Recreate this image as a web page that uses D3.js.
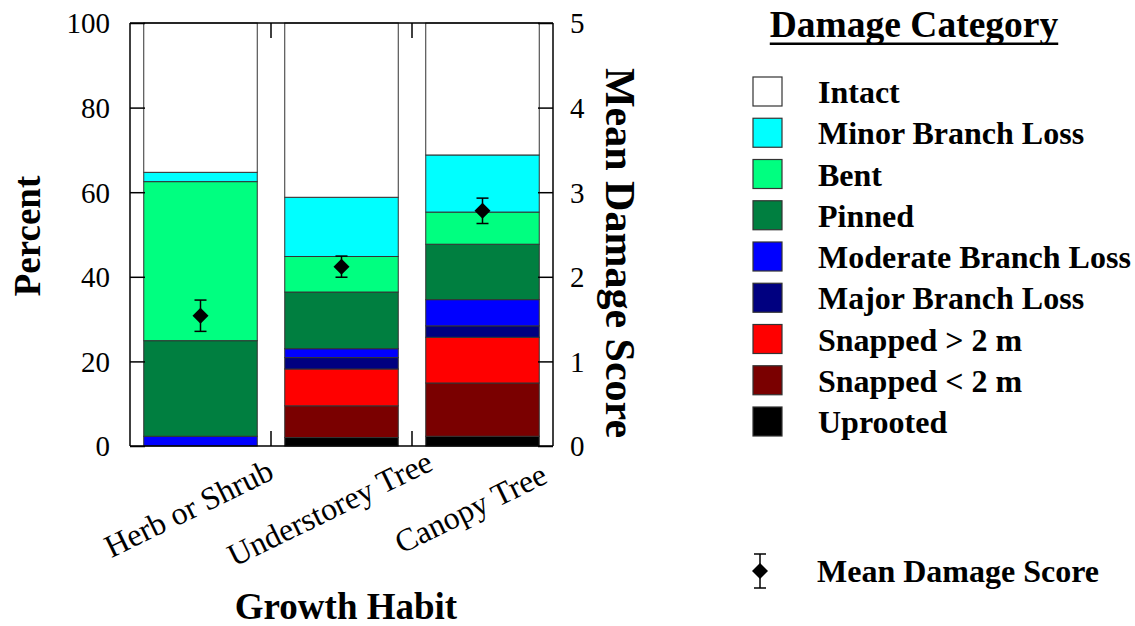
<!DOCTYPE html>
<html>
<head>
<meta charset="utf-8">
<script src="https://cdn.jsdelivr.net/npm/d3@7"></script>
<style>
  html, body { margin: 0; padding: 0; background: #fff; }
  svg { display: block; }
  text { font-family: "Liberation Serif", "Times New Roman", serif; fill: #000; }
</style>
</head>
<body>
<svg id="chart" width="1135" height="626"></svg>
<script>
// Growth habits along the x axis
const categories = ["Herb or Shrub", "Understorey Tree", "Canopy Tree"];

// Damage categories, stacked bottom to top
const damageKeys = ["Uprooted", "Snapped < 2 m", "Snapped > 2 m", "Major Branch Loss",
  "Moderate Branch Loss", "Pinned", "Bent", "Minor Branch Loss", "Intact"];
const damageColors = ["#000000", "#7a0000", "#ff0000", "#000080",
  "#0000ff", "#007f40", "#00ff80", "#00ffff", "#ffffff"];

// Percent of stems in each damage category (order follows damageKeys)
const herbShrub   = [0.0, 0.0, 0.0, 0.0, 2.3, 22.6, 37.6, 2.2, 35.3];
const understorey = [2.0, 7.5, 8.7, 2.7, 2.1, 13.4, 8.4, 14.0, 41.2];
const canopy      = [2.3, 12.6, 10.8, 2.7, 6.2, 13.1, 7.6, 13.5, 31.2];

// Mean damage score and its error (right axis)
const meanScore = [1.54, 2.12, 2.78];
const scoreError = [0.185, 0.125, 0.15];

// Axis ticks
const percentTicks = [0, 20, 40, 60, 80, 100];
const scoreTicks = [0, 1, 2, 3, 4, 5];

// Legend order (top to bottom)
const legendKeys = damageKeys.slice().reverse();

const svg = d3.select("#chart");
const plot = { left: 130, right: 553, top: 23, bottom: 446 };

const x = d3.scaleBand().domain(categories)
  .range([plot.left, plot.right]).paddingInner(0.195).paddingOuter(0.0975);
const yPct = d3.scaleLinear().domain([0, 100]).range([plot.bottom, plot.top]);
const yScore = d3.scaleLinear().domain([0, 5]).range([plot.bottom, plot.top]);
const color = d3.scaleOrdinal().domain(damageKeys).range(damageColors);

// build table rows for the stack
const seriesByCat = [herbShrub, understorey, canopy];
const rows = categories.map((c, i) => {
  const r = { cat: c };
  damageKeys.forEach((k, j) => r[k] = seriesByCat[i][j]);
  return r;
});
const stacked = d3.stack().keys(damageKeys)(rows);

// stacked bars
const layers = svg.append("g").selectAll("g").data(stacked).join("g")
  .attr("fill", d => color(d.key));
layers.selectAll("rect").data(d => d).join("rect")
  .attr("x", d => x(d.data.cat))
  .attr("width", x.bandwidth())
  .attr("y", d => yPct(d[1]))
  .attr("height", d => yPct(d[0]) - yPct(d[1]))
  .attr("stroke", "#333")
  .attr("stroke-width", 1);

// frame lines top and bottom
const frame = svg.append("g").attr("stroke", "#000").attr("stroke-width", 1.5);
frame.append("line").attr("x1", plot.left).attr("x2", plot.right)
  .attr("y1", plot.top).attr("y2", plot.top);
frame.append("line").attr("x1", plot.left).attr("x2", plot.right)
  .attr("y1", plot.bottom).attr("y2", plot.bottom);

// category boundary ticks (inward, top and bottom)
const step = x.step();
const bounds = d3.range(1, categories.length).map(i => plot.left + i * step);
frame.selectAll("line.bt").data(bounds).join("line").attr("class", "bt")
  .attr("x1", d => d).attr("x2", d => d)
  .attr("y1", plot.bottom).attr("y2", plot.bottom - 15);
frame.selectAll("line.tt").data(bounds).join("line").attr("class", "tt")
  .attr("x1", d => d).attr("x2", d => d)
  .attr("y1", plot.top).attr("y2", plot.top + 15);

// left axis (percent)
const axL = svg.append("g").attr("transform", `translate(${plot.left},0)`)
  .call(d3.axisLeft(yPct).tickValues(percentTicks).tickFormat(d3.format("d")).tickSize(-15).tickPadding(20));
axL.selectAll("text").style("font-size", "29px").attr("dy", "0.34em");
axL.selectAll("line, path").attr("stroke", "#000").attr("stroke-width", 1.5);
axL.select("path").attr("d", `M0,${plot.bottom}V${plot.top}`);

// right axis (mean damage score)
const axR = svg.append("g").attr("transform", `translate(${plot.right},0)`)
  .call(d3.axisRight(yScore).tickValues(scoreTicks).tickFormat(d3.format("d")).tickSize(-15).tickPadding(17));
axR.selectAll("text").style("font-size", "29px").attr("dy", "0.34em");
axR.selectAll("line, path").attr("stroke", "#000").attr("stroke-width", 1.5);
axR.select("path").attr("d", `M0,${plot.bottom}V${plot.top}`);

// mean damage score markers with error bars
const marks = svg.append("g").selectAll("g").data(categories).join("g")
  .attr("transform", (c) => `translate(${x(c) + x.bandwidth() / 2},0)`);
marks.append("line")
  .attr("y1", (c, i) => yScore(meanScore[i] + scoreError[i]))
  .attr("y2", (c, i) => yScore(meanScore[i] - scoreError[i]))
  .attr("stroke", "#000").attr("stroke-width", 1.5);
marks.append("line").attr("x1", -6).attr("x2", 6)
  .attr("y1", (c, i) => yScore(meanScore[i] + scoreError[i]))
  .attr("y2", (c, i) => yScore(meanScore[i] + scoreError[i]))
  .attr("stroke", "#000").attr("stroke-width", 1.5);
marks.append("line").attr("x1", -6).attr("x2", 6)
  .attr("y1", (c, i) => yScore(meanScore[i] - scoreError[i]))
  .attr("y2", (c, i) => yScore(meanScore[i] - scoreError[i]))
  .attr("stroke", "#000").attr("stroke-width", 1.5);
marks.append("path")
  .attr("d", (c, i) => { const y = yScore(meanScore[i]), h = 8; return `M0,${y - h}L${h},${y}L0,${y + h}L${-h},${y}Z`; })
  .attr("fill", "#000");

// category labels, slanted
svg.append("g").selectAll("text").data(categories).join("text")
  .attr("transform", c => `translate(${x(c) + x.bandwidth() / 2 - 12},${508}) rotate(-26)`)
  .attr("text-anchor", "middle").attr("dy", "0.35em")
  .style("font-size", "32px")
  .text(c => c);

// axis titles
svg.append("text").attr("transform", "translate(40,236) rotate(-90)")
  .attr("text-anchor", "middle").style("font-size", "37px").style("font-weight", "bold")
  .text("Percent");
svg.append("text").attr("transform", "translate(606,253) rotate(90)")
  .attr("text-anchor", "middle").style("font-size", "42px").style("font-weight", "bold")
  .text("Mean Damage Score");
svg.append("text").attr("x", 346).attr("y", 619)
  .attr("text-anchor", "middle").style("font-size", "37px").style("font-weight", "bold")
  .text("Growth Habit");

// legend
const lg = svg.append("g");
const title = lg.append("text").attr("x", 914).attr("y", 37)
  .attr("text-anchor", "middle").style("font-size", "37.5px").style("font-weight", "bold")
  .text("Damage Category");
const tw = title.node().getComputedTextLength();
lg.append("rect").attr("x", 914 - tw / 2).attr("y", 42.5).attr("width", tw).attr("height", 2.5).attr("fill", "#000");

const items = lg.selectAll("g.item").data(legendKeys).join("g").attr("class", "item")
  .attr("transform", (k, i) => `translate(753,${77 + i * 41.25})`);
items.append("rect").attr("width", 29).attr("height", 29)
  .attr("fill", k => color(k)).attr("stroke", "#333").attr("stroke-width", 1.2);
items.append("text").attr("x", 65).attr("y", 26)
  .style("font-size", "32px").style("font-weight", "bold").text(k => k);

// legend entry for the mean score marker
const ms = lg.append("g").attr("transform", "translate(760,571)");
ms.append("line").attr("y1", -17).attr("y2", 17).attr("stroke", "#000").attr("stroke-width", 1.5);
ms.append("line").attr("x1", -6).attr("x2", 6).attr("y1", -17).attr("y2", -17).attr("stroke", "#000").attr("stroke-width", 1.5);
ms.append("line").attr("x1", -6).attr("x2", 6).attr("y1", 17).attr("y2", 17).attr("stroke", "#000").attr("stroke-width", 1.5);
ms.append("path").attr("d", "M0,-8L8,0L0,8L-8,0Z").attr("fill", "#000");
ms.append("text").attr("x", 57).attr("y", 11)
  .style("font-size", "32px").style("font-weight", "bold").text("Mean Damage Score");
</script>
</body>
</html>
